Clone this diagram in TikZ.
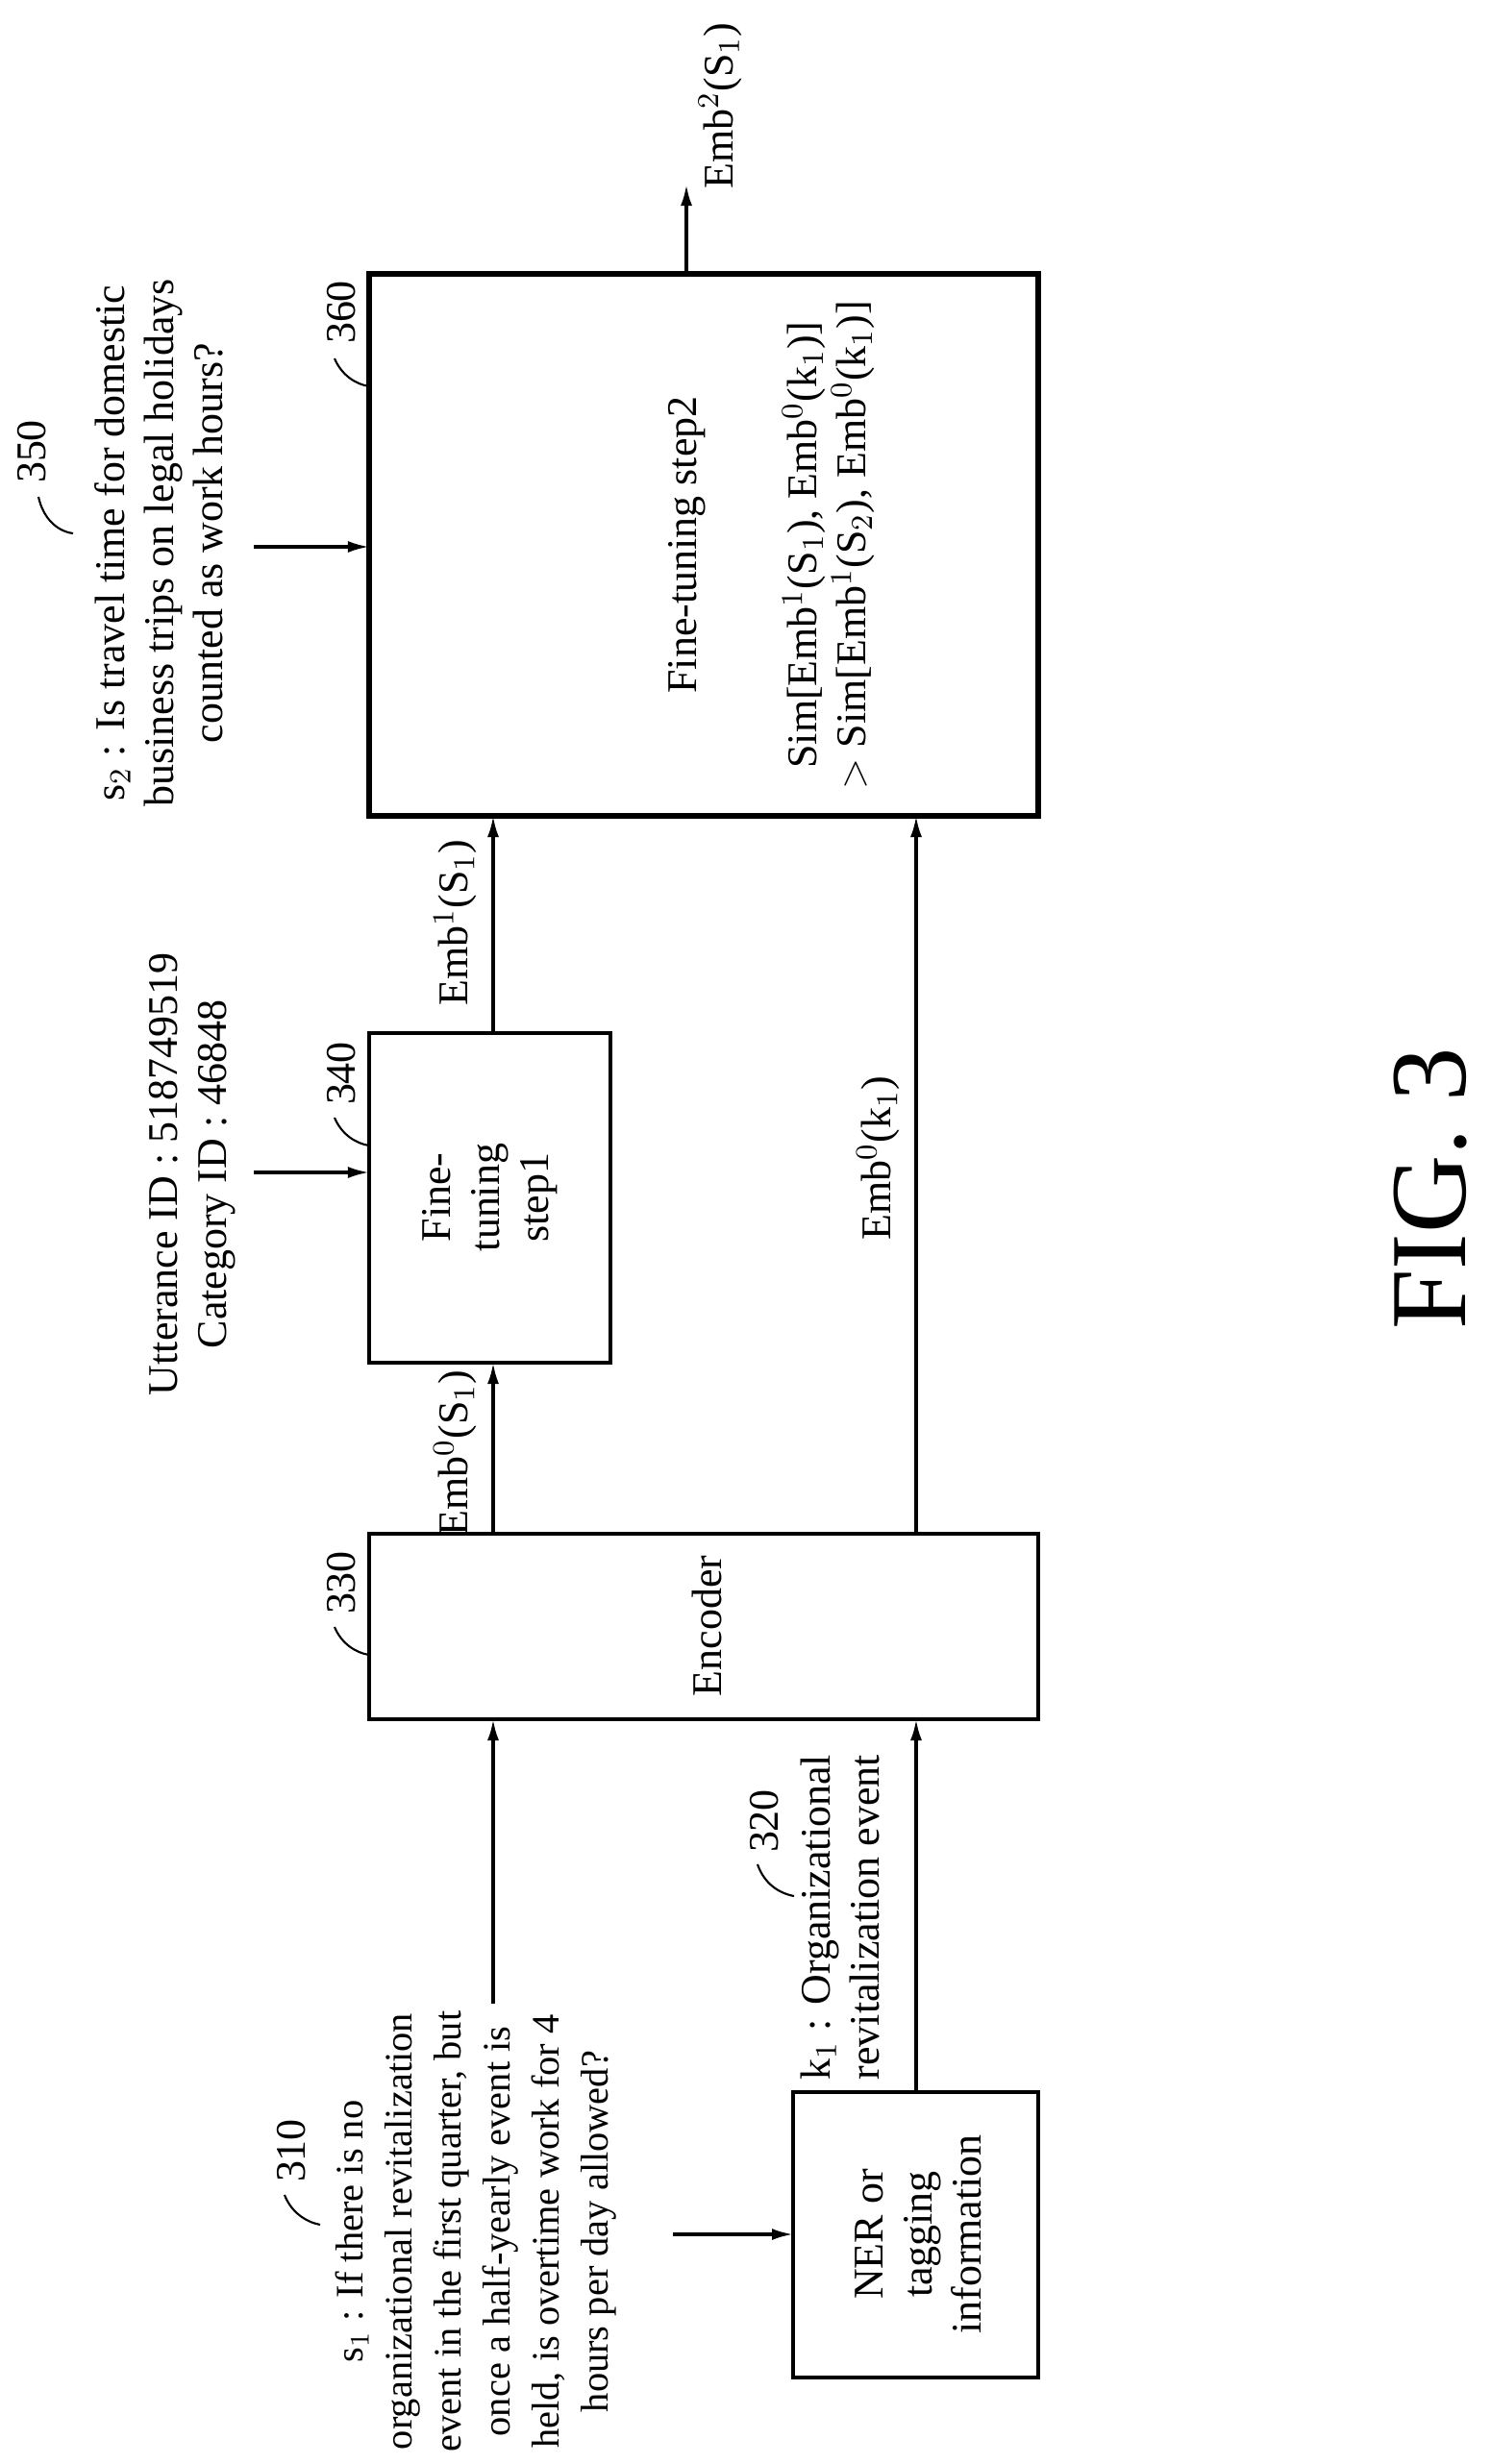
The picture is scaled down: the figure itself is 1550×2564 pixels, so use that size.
\documentclass[tikz,border=0pt]{standalone}
\usepackage{fontspec}
\setmainfont{Liberation Serif}
\usetikzlibrary{arrows.meta}
\begin{document}
\begin{tikzpicture}[x=0.01cm,y=-0.01cm,
  box/.style={draw,line width=0.9pt,inner sep=0pt},
  arr/.style={line width=0.9pt,-{Latex[length=0.22cm,width=0.12cm]}},
  txt/.style={rotate=90,font=\fontsize{12.5}{14.5}\selectfont,align=center,inner sep=0pt},
  lead/.style={line width=0.6pt}]
\useasboundingbox (0,0) rectangle (1550,2564);
% boxes
\draw[line width=1.8pt] (384,285) rectangle (1080,849);
\path (384,1075) coordinate (a1) (635,1418) coordinate (a2);
\draw[line width=0.9pt] (a1) rectangle (a2);
\draw[line width=0.9pt] (384,1596) rectangle (1080,1789);
\draw[line width=0.9pt] (825,2177) rectangle (1080,2474);
% box texts
\node[txt] (t360a) at (715,567) {Fine-tuning step2};
\node[txt] (t360b) at (862,567) {Sim[Emb$^1$(S$_1$), Emb$^0$(k$_1$)]\\
  $>$ Sim[Emb$^1$(S$_2$), Emb$^0$(k$_1$)]};
\node[txt] (t340) at (510,1246) {Fine-\\tuning\\step1};
\node[txt] (tenc) at (735,1692) {Encoder};
\node[txt] (tner) at (955,2325) {NER or\\tagging\\information};
% coordinates
\coordinate (o1) at (714,285); \coordinate (o2) at (714,192);
\coordinate (p1) at (264,569); \coordinate (p2) at (384,569);
\coordinate (u1) at (264,1220); \coordinate (u2) at (384,1220);
\coordinate (e1) at (513,1075); \coordinate (e2) at (513,849);
\coordinate (f1) at (513,1596); \coordinate (f2) at (513,1418);
\coordinate (g1) at (953,1596); \coordinate (g2) at (953,849);
\coordinate (h1) at (513,2085); \coordinate (h2) at (513,1789);
\coordinate (i1) at (953,2177); \coordinate (i2) at (953,1789);
\coordinate (j1) at (700,2325); \coordinate (j2) at (825,2325);
\foreach \a/\b in {o1/o2,p1/p2,u1/u2,e1/e2,f1/f2,g1/g2,h1/h2,i1/i2,j1/j2}
  \draw[arr] (\a) -- (\b);
% labels
\node[txt,anchor=north] (lo) at (726,110) {Emb$^2$(S$_1$)};
\node[txt] (ls2) at (165,565) {s$_2$ : Is travel time for domestic\\business trips on legal holidays\\counted as work hours?};
\node[txt] (lut) at (200,1222) {Utterance ID : 518749519\\Category ID : 46848};
\node[txt,anchor=south] (le1) at (497,960) {Emb$^1$(S$_1$)};
\node[txt,anchor=south] (le0) at (497,1512) {Emb$^0$(S$_1$)};
\node[txt,anchor=south] (lk0) at (937,1205) {Emb$^0$(k$_1$)};
\node[txt,anchor=west,align=left] (lk1) at (874,2165) {k$_1$ : Organizational\\revitalization event};
\node[txt,font=\fontsize{11.5}{14.5}\selectfont] (ls1) at (495,2322) {s$_1$ : If there is no\\organizational revitalization\\event in the first quarter, but\\once a half-yearly event is\\held, is overtime work for 4\\hours per day allowed?};
% reference numerals
\node[txt] (n350) at (33,470) {350};
\node[txt] (n360) at (355,325) {360};
\node[txt] (n340) at (355,1117) {340};
\node[txt] (n330) at (355,1647) {330};
\node[txt] (n320) at (795,1895) {320};
\node[txt] (n310) at (303,2238) {310};
\draw[lead] (40,517) .. controls (45,540) and (60,553) .. (76,555);
\draw[lead] (348,373) .. controls (355,390) and (370,400) .. (384,402);
\draw[lead] (348,1163) .. controls (355,1180) and (370,1190) .. (384,1192);
\draw[lead] (348,1693) .. controls (355,1710) and (370,1720) .. (384,1722);
\draw[lead] (788,1940) .. controls (795,1960) and (810,1970) .. (826,1973);
\draw[lead] (296,2284) .. controls (303,2302) and (318,2312) .. (333,2315);
\node[rotate=90,font=\fontsize{32}{38}\selectfont,inner sep=0pt] (fig) at (1488,1237) {FIG. 3};
\end{tikzpicture}
\end{document}
